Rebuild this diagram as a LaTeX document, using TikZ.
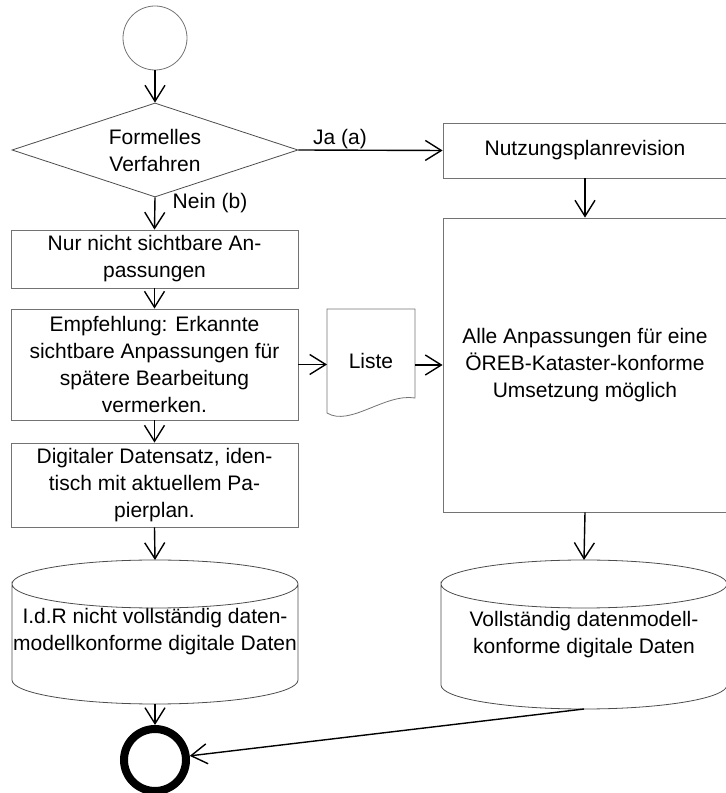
\documentclass[tikz,border=0pt]{standalone}
\usepackage{fontspec}
\setmainfont{Liberation Sans}
\usetikzlibrary{arrows.meta,shapes.geometric}
\tikzset{flow/.style={-{Straight Barb[length=16pt,width=20pt]},line width=1.4pt}}
\tikzset{stepbox/.style={draw=black!55,line width=.8pt,align=center,inner sep=0pt}}
\tikzset{storebox/.style={align=center,inner sep=0pt,outer sep=0pt,minimum width=286pt}}
\newcommand{\StoreShape}[1]{\draw[black!70,line width=.8pt]([yshift=-24pt]#1.north west)arc[start angle=180,end angle=-180,x radius=143pt,y radius=24pt]--([yshift=24pt]#1.south west)arc[start angle=180,end angle=360,x radius=143pt,y radius=24pt]--([yshift=-24pt]#1.north east);}
\begin{document}
\begin{tikzpicture}[x=1pt,y=1pt,font=\fontsize{21}{27}\selectfont]
\useasboundingbox(0,0)rectangle(726,793);
\node[circle,draw=black!55,line width=.8pt,minimum size=64pt,inner sep=0pt](start)at(155,755){};
\node[diamond,draw=black!70,line width=.8pt,aspect=3,minimum width=286pt,minimum height=94pt,inner sep=0pt,align=center](dec)at(155,643){Formelles\\Verfahren};
\node[stepbox,minimum width=284pt,minimum height=55pt](nutz)at(585,642.5){Nutzungsplanrevision};
\node[stepbox,minimum width=284pt,minimum height=294pt](big)at(585,428){Alle Anpassungen für eine\\ÖREB-Kataster-konforme\\Umsetzung möglich};
\node[stepbox,minimum width=287pt,minimum height=58pt](nur)at(154.5,534){Nur nicht sichtbare An-\\passungen};
\node[stepbox,minimum width=287pt,minimum height=111pt](emp)at(154.5,428.5){Empfehlung: Erkannte\\sichtbare Anpassungen für\\spätere Bearbeitung\\vermerken.};
\node[stepbox,minimum width=287pt,minimum height=84pt](dig)at(154.5,308){Digitaler Datensatz, iden-\\tisch mit aktuellem Pa-\\pierplan.};
\node[inner sep=0pt,outer sep=0pt,minimum width=88pt,minimum height=104pt](liste)at(371,432){Liste};
\node[storebox,minimum height=144pt](lc)at(155,161){I.d.R nicht vollständig daten-\\modellkonforme digitale Daten};
\node[storebox,minimum height=149pt](rc)at(584,158.5){Vollständig datenmodell-\\konforme digitale Daten};
\node[circle,draw,line width=8pt,minimum size=62pt,inner sep=0pt](end)at(155,33){};
% outlines
\StoreShape{lc}
\StoreShape{rc}
\draw[black!55,line width=.8pt](liste.north west)--(liste.north east)--([yshift=15pt]liste.south east)
  .. controls ([xshift=-30pt,yshift=20pt]liste.south east) and ([xshift=23pt,yshift=-14pt]liste.south west) .. (liste.south west)--cycle;
% connectors
\draw[flow](start)--(dec.north);
\draw[flow](dec.east)--node[pos=0,anchor=base west,xshift=14pt,yshift=5pt,inner sep=0pt]{Ja (a)}(nutz.west);
\draw[flow](dec.south)--node[pos=0,anchor=base west,xshift=17pt,yshift=-11pt,inner sep=0pt]{Nein (b)}(nur.north);
\draw[flow](nur.south)--(emp.north);
\draw[flow](emp.south)--(dig.north);
\draw[flow](dig.south)--(lc.north);
\draw[flow](lc.south)--(end.north);
\draw[flow](emp.east)--(emp.east-|liste.west);
\draw[flow](liste.east|-big.west)--(big.west);
\draw[flow](nutz.south)--(big.north);
\draw[flow](big.south)--(rc.north);
\draw[flow](rc.south)--(end);
\end{tikzpicture}
\end{document}
